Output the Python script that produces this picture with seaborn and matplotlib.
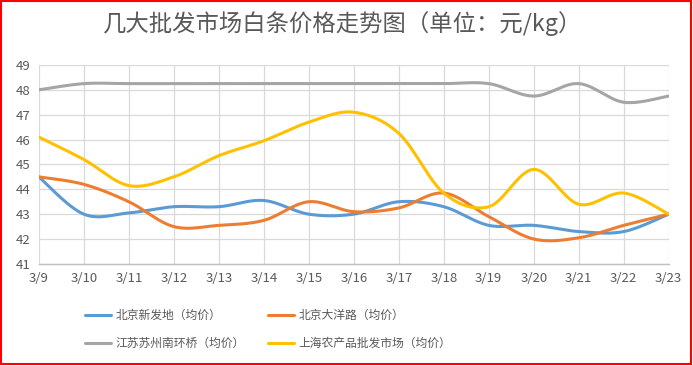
import numpy as np
import pandas as pd
import matplotlib
matplotlib.use("Agg")
import matplotlib.pyplot as plt
from matplotlib.patches import Rectangle
import seaborn as sns

dates = ['3/9', '3/10', '3/11', '3/12', '3/13', '3/14', '3/15', '3/16',
         '3/17', '3/18', '3/19', '3/20', '3/21', '3/22', '3/23']

xinfadi = [44.5, 43.0, 43.05, 43.3, 43.3, 43.55, 43.0, 43.0, 43.5, 43.3, 42.55, 42.55, 42.3, 42.3, 43.0]
dayanglu = [44.5, 44.2, 43.5, 42.5, 42.55, 42.75, 43.5, 43.1, 43.25, 43.85, 42.9, 42.0, 42.05, 42.55, 43.0]
suzhou = [48.0, 48.25, 48.25, 48.25, 48.25, 48.25, 48.25, 48.25, 48.25, 48.25, 48.25, 47.75, 48.25, 47.5, 47.75]
shanghai = [46.1, 45.2, 44.15, 44.5, 45.35, 45.95, 46.7, 47.1, 46.25, 43.85, 43.3, 44.8, 43.4, 43.85, 43.0]

series_names = ['北京新发地（均价）', '北京大洋路（均价）', '江苏苏州南环桥（均价）', '上海农产品批发市场（均价）']
series_vals = [xinfadi, dayanglu, suzhou, shanghai]
colors = ['#5B9BD5', '#ED7D31', '#A5A5A5', '#FFC000']


# Excel-style smoothed line (Catmull-Rom bezier) - only for drawing
def smooth(y, steps=30):
    x = np.arange(len(y), dtype=float)
    y = np.asarray(y, dtype=float)
    pts = np.column_stack([x, y])
    pts = np.vstack([pts[0], pts, pts[-1]])
    out = []
    for i in range(1, len(pts) - 2):
        p0, p1, p2, p3 = pts[i - 1], pts[i], pts[i + 1], pts[i + 2]
        c1 = p1 + (p2 - p0) / 6
        c2 = p2 - (p3 - p1) / 6
        t = np.linspace(0, 1, steps, endpoint=(i == len(pts) - 3))[:, None]
        seg = (1 - t) ** 3 * p1 + 3 * (1 - t) ** 2 * t * c1 + 3 * (1 - t) * t ** 2 * c2 + t ** 3 * p2
        out.append(seg)
    out = np.vstack(out)
    return out[:, 0], out[:, 1]


sns.set_theme(style="white")
plt.rcParams['font.family'] = ['Noto Sans CJK SC', 'DejaVu Sans']

fig = plt.figure(figsize=(6.93, 3.65), dpi=100)
ax = fig.add_axes([0.056, 0.277, 0.909, 0.545])

frames = []
for name, vals in zip(series_names, series_vals):
    sx, sy = smooth(vals)
    frames.append(pd.DataFrame({'x': sx, 'y': sy, 'market': name}))
df = pd.concat(frames, ignore_index=True)

sns.lineplot(data=df, x='x', y='y', hue='market', palette=colors, sort=False,
             linewidth=2.2, ax=ax, legend=True)

ax.set_xlim(0, len(dates) - 1)
ax.set_ylim(41, 49)
ax.set_xticks(range(len(dates)))
ax.set_xticklabels(dates)
ax.set_yticks(range(41, 50))
ax.set_xlabel('')
ax.set_ylabel('')
ax.grid(True, color='#D9D9D9', linewidth=0.9)
ax.set_axisbelow(True)
for s in ['top', 'right', 'left']:
    ax.spines[s].set_visible(False)
ax.spines['bottom'].set_color('#BFBFBF')
ax.spines['bottom'].set_linewidth(1.0)
ax.tick_params(axis='both', length=0, labelsize=9.5, colors='#595959', pad=6)

fig.suptitle('几大批发市场白条价格走势图（单位：元/kg）', x=0.494, y=0.97,
             fontsize=16.8, color='#595959')

# legend filled row by row like the original
handles, labels = ax.get_legend_handles_labels()
ax.get_legend().remove()
order = [0, 2, 1, 3]
fig.legend([handles[i] for i in order], [labels[i] for i in order], ncol=2,
           loc='center', bbox_to_anchor=(0.387, 0.097),
           frameon=False, fontsize=8.5, labelcolor='#595959', handlelength=2.2,
           columnspacing=2.0, handletextpad=0.35, labelspacing=1.25)

fig.patches.append(Rectangle((0.002, 0.004), 0.995, 0.992, transform=fig.transFigure,
                             fill=False, edgecolor='red', linewidth=1.5))

fig.savefig('out.png', dpi=100)
